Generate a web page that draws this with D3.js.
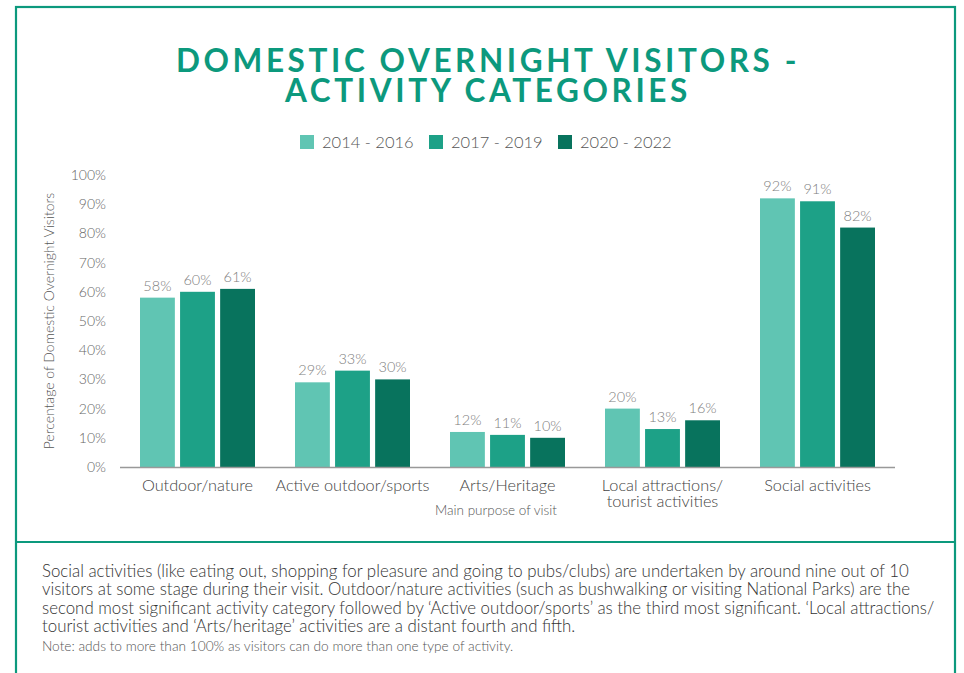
<!DOCTYPE html>
<html>
<head>
<meta charset="utf-8">
<script src="https://cdn.jsdelivr.net/npm/d3@7"></script>
<style>
  body { margin: 0; background: #fff; }
  svg { display: block; font-family: Lato, "Open Sans", sans-serif; }
</style>
</head>
<body>
<svg id="chart"></svg>
<script>
const categories = ["Outdoor/nature", "Active outdoor/sports", "Arts/Heritage", "Local attractions/\ntourist activities", "Social activities"]
const periods = ["2014 - 2016", "2017 - 2019", "2020 - 2022"]
const values2014 = [58, 29, 12, 20, 92]
const values2017 = [60, 33, 11, 13, 91]
const values2020 = [61, 30, 10, 16, 82]
const yTicks = [0, 10, 20, 30, 40, 50, 60, 70, 80, 90, 100]
const colors = ["#60c5b3", "#1da187", "#08735d"]
const titleLines = ["DOMESTIC OVERNIGHT VISITORS -", "ACTIVITY CATEGORIES"]
const bodyLines = [
    "Social activities (like eating out, shopping for pleasure and going to pubs/clubs) are undertaken by around nine out of 10",
    "visitors at some stage during their visit. Outdoor/nature activities (such as bushwalking or visiting National Parks) are the",
    "second most significant activity category followed by \u2018Active outdoor/sports\u2019 as the third most significant. \u2018Local attractions/",
    "tourist activities and \u2018Arts/heritage\u2019 activities are a distant fourth and fifth."
]
const noteText = "Note: adds to more than 100% as visitors can do more than one type of activity."

const width = 964
const height = 673
const green = "#0c997d"

const svg = d3.select("#chart")
    .attr("width", width)
    .attr("height", height)

// frame and divider
svg.append("rect")
    .attr("x", 16).attr("y", 7)
    .attr("width", 939).attr("height", 680)
    .attr("fill", "none").attr("stroke", green).attr("stroke-width", 2.2)
svg.append("line")
    .attr("x1", 16).attr("x2", 955).attr("y1", 542).attr("y2", 542)
    .attr("stroke", green).attr("stroke-width", 2.2)

// title
svg.selectAll("text.title")
    .data(titleLines)
    .enter()
    .append("text")
    .attr("class", "title")
    .attr("x", 488)
    .attr("y", (d, i) => 72 + i * 30)
    .attr("text-anchor", "middle")
    .attr("font-size", 31.5)
    .attr("font-weight", "bold")
    .attr("letter-spacing", 3.6)
    .attr("fill", green)
    .text(d => d)

// legend
const legend = svg.selectAll("g.legend")
    .data(periods)
    .enter()
    .append("g")
    .attr("class", "legend")
    .attr("transform", (d, i) => `translate(${300 + i * 129},135)`)
legend.append("rect")
    .attr("width", 14).attr("height", 14)
    .attr("fill", (d, i) => colors[i])
legend.append("text")
    .attr("x", 22).attr("y", 13)
    .attr("font-size", 16.5)
    .attr("font-weight", 300)
    .attr("fill", "#555")
    .text(d => d)

// scales
const x0 = d3.scaleBand().domain(categories).range([120, 895]).paddingInner(0).paddingOuter(0)
const x1 = d3.scaleBand().domain(periods).range([0, 115]).paddingInner(0.13)
const y = d3.scaleLinear().domain([0, 100]).range([467, 175])

const series = periods.map((p, i) => ({
    period: p,
    color: colors[i],
    values: [values2014, values2017, values2020][i]
}))

// y axis labels
svg.append("g")
    .attr("transform", "translate(106,0)")
    .call(d3.axisLeft(y).tickValues(yTicks).tickFormat(d => d + "%").tickSize(0).tickPadding(0))
    .call(g => g.select(".domain").remove())
    .call(g => g.selectAll("text").attr("font-size", 14).attr("font-weight", 300).attr("fill", "#666").attr("font-family", "Lato, sans-serif"))

svg.append("text")
    .attr("transform", `translate(54,${y(50)}) rotate(-90)`)
    .attr("text-anchor", "middle")
    .attr("font-size", 14)
    .attr("font-weight", 300)
    .attr("fill", "#555")
    .text("Percentage of Domestic Overnight Visitors")

// bars
const groups = svg.selectAll("g.series")
    .data(series)
    .enter()
    .append("g")
    .attr("class", "series")

groups.selectAll("rect")
    .data(s => s.values.map((v, j) => ({ v, cat: categories[j], period: s.period, color: s.color })))
    .enter()
    .append("rect")
    .attr("x", d => x0(d.cat) + (x0.bandwidth() - 115) / 2 + x1(d.period))
    .attr("y", d => y(d.v))
    .attr("width", x1.bandwidth())
    .attr("height", d => y(0) - y(d.v))
    .attr("fill", d => d.color)

groups.selectAll("text")
    .data(s => s.values.map((v, j) => ({ v, cat: categories[j], period: s.period })))
    .enter()
    .append("text")
    .attr("x", d => x0(d.cat) + (x0.bandwidth() - 115) / 2 + x1(d.period) + x1.bandwidth() / 2)
    .attr("y", d => y(d.v) - 7)
    .attr("text-anchor", "middle")
    .attr("font-size", 14.5)
    .attr("font-weight", 300)
    .attr("fill", "#808080")
    .text(d => d.v + "%")

// x axis line
svg.append("line")
    .attr("x1", 120).attr("x2", 895)
    .attr("y1", y(0) + 0.5).attr("y2", y(0) + 0.5)
    .attr("stroke", "#999").attr("stroke-width", 1.5)

// category labels, one text per line
const catLines = []
categories.forEach(c => c.split("\n").forEach((t, i) => catLines.push({ c, t, i })))
svg.selectAll("text.cat")
    .data(catLines)
    .enter()
    .append("text")
    .attr("class", "cat")
    .attr("x", d => x0(d.c) + x0.bandwidth() / 2)
    .attr("y", d => 491 + d.i * 16)
    .attr("text-anchor", "middle")
    .attr("font-size", 16.3)
    .attr("font-weight", 300)
    .attr("fill", "#444")
    .text(d => d.t)

svg.append("text")
    .attr("x", 496).attr("y", 515)
    .attr("text-anchor", "middle")
    .attr("font-size", 13.5)
    .attr("font-weight", 300)
    .attr("fill", "#555")
    .text("Main purpose of visit")

// commentary
svg.selectAll("text.body")
    .data(bodyLines)
    .enter()
    .append("text")
    .attr("class", "body")
    .attr("x", 42)
    .attr("y", (d, i) => 577 + i * 18.4)
    .attr("font-size", 16.85)
    .attr("font-weight", 300)
    .attr("fill", "#333")
    .text(d => d)

svg.append("text")
    .attr("x", 42).attr("y", 651)
    .attr("font-size", 13.7)
    .attr("font-weight", 300)
    .attr("fill", "#555")
    .text(noteText)
</script>
</body>
</html>
